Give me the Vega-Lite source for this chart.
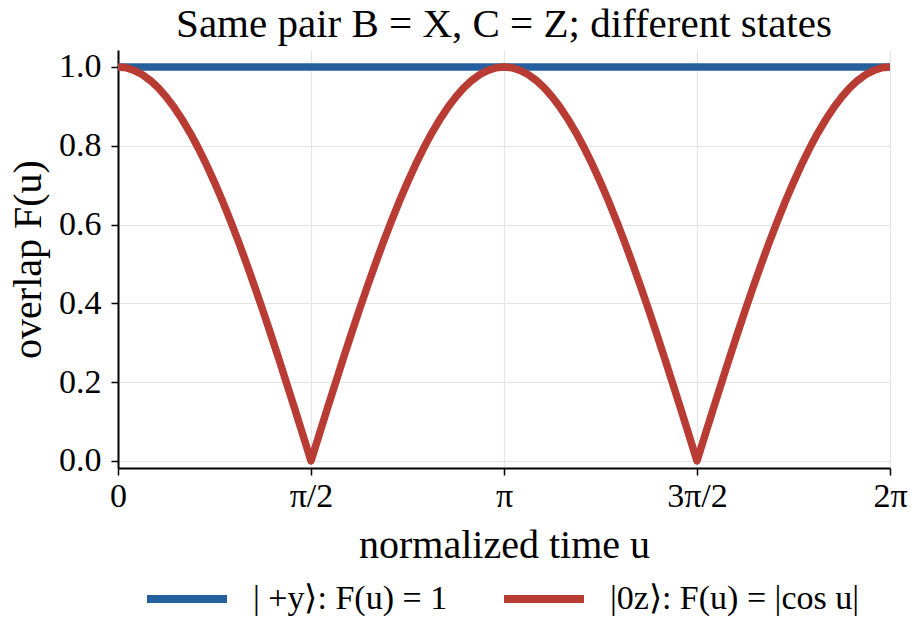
{
  "$schema": "https://vega.github.io/schema/vega-lite/v6.json",
  "width": 772,
  "height": 418,
  "autosize": {"type": "none"},
  "padding": {"left": 118, "top": 50, "right": 24, "bottom": 158},
  "background": "white",
  "title": {
    "text": "Same pair B = X, C = Z; different states",
    "font": "Liberation Serif",
    "fontSize": 41,
    "fontWeight": "normal",
    "color": "black",
    "anchor": "middle",
    "offset": 4
  },
  "config": {
    "view": {"stroke": null},
    "font": "Liberation Serif"
  },
  "data": {
    "values": [
      {"u": 0, "F": 1, "state": "| +y⟩: F(u) = 1"},
      {"u": 6.2832, "F": 1, "state": "| +y⟩: F(u) = 1"},
      {"u": 0.0000, "F": 1.00000, "state": "|0z⟩: F(u) = |cos u|"},
      {"u": 0.0654, "F": 0.99786, "state": "|0z⟩: F(u) = |cos u|"},
      {"u": 0.1309, "F": 0.99144, "state": "|0z⟩: F(u) = |cos u|"},
      {"u": 0.1963, "F": 0.98079, "state": "|0z⟩: F(u) = |cos u|"},
      {"u": 0.2618, "F": 0.96593, "state": "|0z⟩: F(u) = |cos u|"},
      {"u": 0.3272, "F": 0.94693, "state": "|0z⟩: F(u) = |cos u|"},
      {"u": 0.3927, "F": 0.92388, "state": "|0z⟩: F(u) = |cos u|"},
      {"u": 0.4581, "F": 0.89687, "state": "|0z⟩: F(u) = |cos u|"},
      {"u": 0.5236, "F": 0.86603, "state": "|0z⟩: F(u) = |cos u|"},
      {"u": 0.5890, "F": 0.83147, "state": "|0z⟩: F(u) = |cos u|"},
      {"u": 0.6545, "F": 0.79335, "state": "|0z⟩: F(u) = |cos u|"},
      {"u": 0.7199, "F": 0.75184, "state": "|0z⟩: F(u) = |cos u|"},
      {"u": 0.7854, "F": 0.70711, "state": "|0z⟩: F(u) = |cos u|"},
      {"u": 0.8508, "F": 0.65935, "state": "|0z⟩: F(u) = |cos u|"},
      {"u": 0.9163, "F": 0.60876, "state": "|0z⟩: F(u) = |cos u|"},
      {"u": 0.9817, "F": 0.55557, "state": "|0z⟩: F(u) = |cos u|"},
      {"u": 1.0472, "F": 0.50000, "state": "|0z⟩: F(u) = |cos u|"},
      {"u": 1.1126, "F": 0.44229, "state": "|0z⟩: F(u) = |cos u|"},
      {"u": 1.1781, "F": 0.38268, "state": "|0z⟩: F(u) = |cos u|"},
      {"u": 1.2435, "F": 0.32143, "state": "|0z⟩: F(u) = |cos u|"},
      {"u": 1.3090, "F": 0.25882, "state": "|0z⟩: F(u) = |cos u|"},
      {"u": 1.3744, "F": 0.19509, "state": "|0z⟩: F(u) = |cos u|"},
      {"u": 1.4399, "F": 0.13053, "state": "|0z⟩: F(u) = |cos u|"},
      {"u": 1.5053, "F": 0.06540, "state": "|0z⟩: F(u) = |cos u|"},
      {"u": 1.5708, "F": 0.00000, "state": "|0z⟩: F(u) = |cos u|"},
      {"u": 1.6362, "F": 0.06540, "state": "|0z⟩: F(u) = |cos u|"},
      {"u": 1.7017, "F": 0.13053, "state": "|0z⟩: F(u) = |cos u|"},
      {"u": 1.7671, "F": 0.19509, "state": "|0z⟩: F(u) = |cos u|"},
      {"u": 1.8326, "F": 0.25882, "state": "|0z⟩: F(u) = |cos u|"},
      {"u": 1.8980, "F": 0.32143, "state": "|0z⟩: F(u) = |cos u|"},
      {"u": 1.9635, "F": 0.38268, "state": "|0z⟩: F(u) = |cos u|"},
      {"u": 2.0289, "F": 0.44229, "state": "|0z⟩: F(u) = |cos u|"},
      {"u": 2.0944, "F": 0.50000, "state": "|0z⟩: F(u) = |cos u|"},
      {"u": 2.1598, "F": 0.55557, "state": "|0z⟩: F(u) = |cos u|"},
      {"u": 2.2253, "F": 0.60876, "state": "|0z⟩: F(u) = |cos u|"},
      {"u": 2.2907, "F": 0.65935, "state": "|0z⟩: F(u) = |cos u|"},
      {"u": 2.3562, "F": 0.70711, "state": "|0z⟩: F(u) = |cos u|"},
      {"u": 2.4216, "F": 0.75184, "state": "|0z⟩: F(u) = |cos u|"},
      {"u": 2.4871, "F": 0.79335, "state": "|0z⟩: F(u) = |cos u|"},
      {"u": 2.5525, "F": 0.83147, "state": "|0z⟩: F(u) = |cos u|"},
      {"u": 2.6180, "F": 0.86603, "state": "|0z⟩: F(u) = |cos u|"},
      {"u": 2.6834, "F": 0.89687, "state": "|0z⟩: F(u) = |cos u|"},
      {"u": 2.7489, "F": 0.92388, "state": "|0z⟩: F(u) = |cos u|"},
      {"u": 2.8143, "F": 0.94693, "state": "|0z⟩: F(u) = |cos u|"},
      {"u": 2.8798, "F": 0.96593, "state": "|0z⟩: F(u) = |cos u|"},
      {"u": 2.9452, "F": 0.98079, "state": "|0z⟩: F(u) = |cos u|"},
      {"u": 3.0107, "F": 0.99144, "state": "|0z⟩: F(u) = |cos u|"},
      {"u": 3.0761, "F": 0.99786, "state": "|0z⟩: F(u) = |cos u|"},
      {"u": 3.1416, "F": 1.00000, "state": "|0z⟩: F(u) = |cos u|"},
      {"u": 3.2070, "F": 0.99786, "state": "|0z⟩: F(u) = |cos u|"},
      {"u": 3.2725, "F": 0.99144, "state": "|0z⟩: F(u) = |cos u|"},
      {"u": 3.3379, "F": 0.98079, "state": "|0z⟩: F(u) = |cos u|"},
      {"u": 3.4034, "F": 0.96593, "state": "|0z⟩: F(u) = |cos u|"},
      {"u": 3.4688, "F": 0.94693, "state": "|0z⟩: F(u) = |cos u|"},
      {"u": 3.5343, "F": 0.92388, "state": "|0z⟩: F(u) = |cos u|"},
      {"u": 3.5997, "F": 0.89687, "state": "|0z⟩: F(u) = |cos u|"},
      {"u": 3.6652, "F": 0.86603, "state": "|0z⟩: F(u) = |cos u|"},
      {"u": 3.7306, "F": 0.83147, "state": "|0z⟩: F(u) = |cos u|"},
      {"u": 3.7961, "F": 0.79335, "state": "|0z⟩: F(u) = |cos u|"},
      {"u": 3.8615, "F": 0.75184, "state": "|0z⟩: F(u) = |cos u|"},
      {"u": 3.9270, "F": 0.70711, "state": "|0z⟩: F(u) = |cos u|"},
      {"u": 3.9924, "F": 0.65935, "state": "|0z⟩: F(u) = |cos u|"},
      {"u": 4.0579, "F": 0.60876, "state": "|0z⟩: F(u) = |cos u|"},
      {"u": 4.1233, "F": 0.55557, "state": "|0z⟩: F(u) = |cos u|"},
      {"u": 4.1888, "F": 0.50000, "state": "|0z⟩: F(u) = |cos u|"},
      {"u": 4.2542, "F": 0.44229, "state": "|0z⟩: F(u) = |cos u|"},
      {"u": 4.3197, "F": 0.38268, "state": "|0z⟩: F(u) = |cos u|"},
      {"u": 4.3851, "F": 0.32143, "state": "|0z⟩: F(u) = |cos u|"},
      {"u": 4.4506, "F": 0.25882, "state": "|0z⟩: F(u) = |cos u|"},
      {"u": 4.5160, "F": 0.19509, "state": "|0z⟩: F(u) = |cos u|"},
      {"u": 4.5815, "F": 0.13053, "state": "|0z⟩: F(u) = |cos u|"},
      {"u": 4.6469, "F": 0.06540, "state": "|0z⟩: F(u) = |cos u|"},
      {"u": 4.7124, "F": 0.00000, "state": "|0z⟩: F(u) = |cos u|"},
      {"u": 4.7778, "F": 0.06540, "state": "|0z⟩: F(u) = |cos u|"},
      {"u": 4.8433, "F": 0.13053, "state": "|0z⟩: F(u) = |cos u|"},
      {"u": 4.9087, "F": 0.19509, "state": "|0z⟩: F(u) = |cos u|"},
      {"u": 4.9742, "F": 0.25882, "state": "|0z⟩: F(u) = |cos u|"},
      {"u": 5.0396, "F": 0.32143, "state": "|0z⟩: F(u) = |cos u|"},
      {"u": 5.1051, "F": 0.38268, "state": "|0z⟩: F(u) = |cos u|"},
      {"u": 5.1705, "F": 0.44229, "state": "|0z⟩: F(u) = |cos u|"},
      {"u": 5.2360, "F": 0.50000, "state": "|0z⟩: F(u) = |cos u|"},
      {"u": 5.3014, "F": 0.55557, "state": "|0z⟩: F(u) = |cos u|"},
      {"u": 5.3669, "F": 0.60876, "state": "|0z⟩: F(u) = |cos u|"},
      {"u": 5.4323, "F": 0.65935, "state": "|0z⟩: F(u) = |cos u|"},
      {"u": 5.4978, "F": 0.70711, "state": "|0z⟩: F(u) = |cos u|"},
      {"u": 5.5632, "F": 0.75184, "state": "|0z⟩: F(u) = |cos u|"},
      {"u": 5.6287, "F": 0.79335, "state": "|0z⟩: F(u) = |cos u|"},
      {"u": 5.6941, "F": 0.83147, "state": "|0z⟩: F(u) = |cos u|"},
      {"u": 5.7596, "F": 0.86603, "state": "|0z⟩: F(u) = |cos u|"},
      {"u": 5.8250, "F": 0.89687, "state": "|0z⟩: F(u) = |cos u|"},
      {"u": 5.8905, "F": 0.92388, "state": "|0z⟩: F(u) = |cos u|"},
      {"u": 5.9559, "F": 0.94693, "state": "|0z⟩: F(u) = |cos u|"},
      {"u": 6.0214, "F": 0.96593, "state": "|0z⟩: F(u) = |cos u|"},
      {"u": 6.0868, "F": 0.98079, "state": "|0z⟩: F(u) = |cos u|"},
      {"u": 6.1523, "F": 0.99144, "state": "|0z⟩: F(u) = |cos u|"},
      {"u": 6.2177, "F": 0.99786, "state": "|0z⟩: F(u) = |cos u|"},
      {"u": 6.2832, "F": 1.00000, "state": "|0z⟩: F(u) = |cos u|"}
    ]
  },
  "mark": {"type": "line", "strokeWidth": 7.5, "strokeJoin": "round", "strokeCap": "butt", "clip": true},
  "encoding": {
    "x": {
      "field": "u",
      "type": "quantitative",
      "scale": {"domain": [0, 6.2832], "nice": false, "zero": false},
      "axis": {
        "title": "normalized time u",
        "values": [0, 1.5708, 3.1416, 4.7124, 6.2832],
        "labelExpr": "datum.value < 0.1 ? '0' : datum.value < 2 ? 'π/2' : datum.value < 4 ? 'π' : datum.value < 5 ? '3π/2' : '2π'",
        "labelFont": "Liberation Serif",
        "labelFontSize": 34,
        "labelColor": "black",
        "labelPadding": 4,
        "labelFlush": false,
        "titleFont": "Liberation Serif",
        "titleFontSize": 40,
        "titleFontWeight": "normal",
        "titleColor": "black",
        "titlePadding": 12,
        "domainColor": "black",
        "domainWidth": 2,
        "tickColor": "black",
        "tickWidth": 1.5,
        "tickSize": 7,
        "grid": true,
        "gridColor": "#e5e5e5",
        "gridWidth": 1.2
      }
    },
    "y": {
      "field": "F",
      "type": "quantitative",
      "scale": {"domain": [-0.018, 1.043], "nice": false, "zero": false},
      "axis": {
        "title": "overlap F(u)",
        "values": [0, 0.2, 0.4, 0.6, 0.8, 1.0],
        "format": ".1f",
        "labelFont": "Liberation Serif",
        "labelFontSize": 34,
        "labelColor": "black",
        "labelPadding": 10,
        "labelFlush": false,
        "titleFont": "Liberation Serif",
        "titleFontSize": 40,
        "titleFontWeight": "normal",
        "titleColor": "black",
        "titlePadding": 10,
        "domainColor": "black",
        "domainWidth": 2,
        "tickColor": "black",
        "tickWidth": 1.5,
        "tickSize": 7,
        "grid": true,
        "gridColor": "#e5e5e5",
        "gridWidth": 1.2
      }
    },
    "color": {
      "field": "state",
      "type": "nominal",
      "scale": {
        "domain": ["| +y⟩: F(u) = 1", "|0z⟩: F(u) = |cos u|"],
        "range": ["#245f9e", "#b83c33"]
      },
      "legend": {
        "title": null,
        "orient": "none",
        "direction": "horizontal",
        "legendX": 25,
        "legendY": 505,
        "padding": 0,
        "symbolType": "stroke",
        "symbolSize": 6400,
        "symbolStrokeWidth": 8,
        "labelFont": "Liberation Serif",
        "labelFontSize": 34,
        "labelColor": "black",
        "labelOffset": 22,
        "columnPadding": 40,
        "labelLimit": 400
      }
    }
  }
}
